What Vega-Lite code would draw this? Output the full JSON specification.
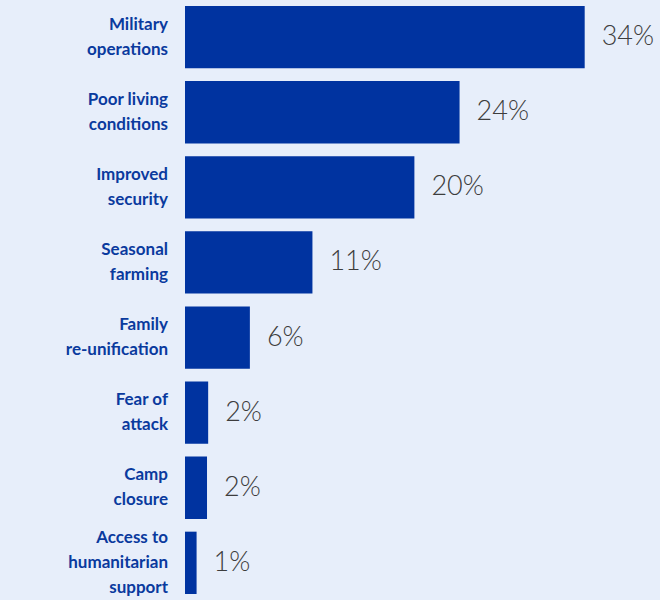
{
  "$schema": "https://vega.github.io/schema/vega-lite/v6.json",
  "autosize": {"type": "none"},
  "padding": {"left": 185, "top": 0, "right": 0, "bottom": 0},
  "width": 475,
  "height": 600,
  "background": "#e7eefa",
  "config": {
    "view": {"stroke": null},
    "text": {"font": "Lato"}
  },
  "data": {
    "values": [
      {"reason": "Military\noperations", "value": 34.5, "label": "34%"},
      {"reason": "Poor living\nconditions", "value": 23.7, "label": "24%"},
      {"reason": "Improved\nsecurity", "value": 19.8, "label": "20%"},
      {"reason": "Seasonal\nfarming", "value": 11.0, "label": "11%"},
      {"reason": "Family\nre-unification", "value": 5.6, "label": "6%"},
      {"reason": "Fear of\nattack", "value": 2.0, "label": "2%"},
      {"reason": "Camp\nclosure", "value": 1.9, "label": "2%"},
      {"reason": "Access to\nhumanitarian\nsupport", "value": 1.0, "label": "1%"}
    ]
  },
  "encoding": {
    "y": {
      "field": "reason",
      "type": "nominal",
      "sort": null,
      "axis": null,
      "scale": {"paddingInner": 0.17, "paddingOuter": 0.08}
    }
  },
  "layer": [
    {
      "mark": {"type": "bar", "color": "#0033a0"},
      "encoding": {
        "x": {"field": "value", "type": "quantitative", "axis": null, "scale": {"domain": [0, 41], "nice": false}}
      }
    },
    {
      "mark": {"type": "text", "align": "left", "baseline": "middle", "dx": 17, "fontSize": 27, "fontWeight": 300, "color": "#3d3d3d"},
      "encoding": {
        "x": {"field": "value", "type": "quantitative"},
        "text": {"field": "label"}
      }
    },
    {
      "mark": {
        "type": "text",
        "align": "right",
        "baseline": "middle",
        "dx": -17,
        "dy": {"expr": "-(length(split(datum.reason, '\\n')) - 1) * 12.5"},
        "fontSize": 17,
        "fontWeight": "bold",
        "color": "#0a3a9e",
        "lineBreak": "\n",
        "lineHeight": 25
      },
      "encoding": {
        "x": {"datum": 0, "type": "quantitative"},
        "text": {"field": "reason"}
      }
    }
  ]
}
